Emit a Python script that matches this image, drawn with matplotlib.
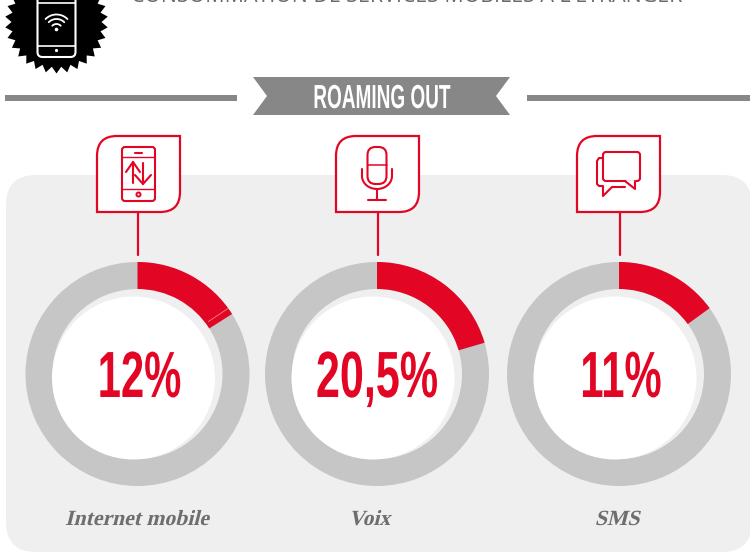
import numpy as np
import matplotlib
matplotlib.use("Agg")
import matplotlib.pyplot as plt
from matplotlib.patches import Wedge, Circle, FancyBboxPatch, PathPatch, Polygon, Rectangle
from matplotlib.path import Path
from matplotlib.patheffects import AbstractPathEffect
from matplotlib.transforms import Affine2D

# valeurs
categories = ["Internet mobile", "Voix", "SMS"]
labels = ["12%", "20,5%", "11%"]
arc_share = [16, 20.5, 15]   # part de l'anneau reellement dessinee
title = "CONSOMMATION DE SERVICES MOBILES À L'ÉTRANGER"
banner = "ROAMING OUT"

RED = "#e30524"
RING = "#c6c6c6"
PANEL = "#efefef"
BAND = "#878787"

centers_x = [137.5, 377, 619]
label_x = [139.5, 377, 621]
label_sx = [0.64, 0.66, 0.64]
cat_x = [136.5, 369.5, 617]
box_x = [97, 336, 577]
CY = 374
R = 112
WIDTH = 27


# resserre le texte horizontalement (pas de police condensee installee)
class Squeeze(AbstractPathEffect):
    def __init__(self, sx, cx):
        super().__init__()
        self.sx = sx
        self.cx = cx

    def draw_path(self, renderer, gc, tpath, affine, rgbFace=None):
        aff = affine + Affine2D().translate(-self.cx, 0).scale(self.sx, 1).translate(self.cx, 0)
        renderer.draw_path(gc, tpath, aff, rgbFace)


# penche le texte (l'italique gras de Liberation Serif ne sort pas)
class Penche(AbstractPathEffect):
    def __init__(self, deg, y0):
        super().__init__()
        self.deg = deg
        self.y0 = y0

    def draw_path(self, renderer, gc, tpath, affine, rgbFace=None):
        aff = affine + Affine2D().translate(0, -self.y0).skew_deg(self.deg, 0).translate(0, self.y0)
        renderer.draw_path(gc, tpath, aff, rgbFace)


def boite(ax, x, y, w=83, h=76, r=20):
    verts = [(x + r, y), (x + w, y), (x + w, y + h - r), (x + w, y + h), (x + w - r, y + h),
             (x, y + h), (x, y + r), (x, y), (x + r, y), (x + r, y)]
    codes = [Path.MOVETO, Path.LINETO, Path.LINETO, Path.CURVE3, Path.CURVE3,
             Path.LINETO, Path.LINETO, Path.CURVE3, Path.CURVE3, Path.CLOSEPOLY]
    ax.add_patch(PathPatch(Path(verts, codes), fc="white", ec=RED, lw=1.6, zorder=3))


def arrondi(ax, x, y, w, h, r=2, color=RED, lw=1.5, fc="none", z=4):
    ax.add_patch(FancyBboxPatch((x + r, y + r), w - 2 * r, h - 2 * r, boxstyle="round,pad=%g,rounding_size=%g" % (r, r),
                                fc=fc, ec=color, lw=lw, zorder=z))


def trait(ax, xs, ys, color=RED, lw=1.5, z=4):
    ax.plot(xs, ys, color=color, lw=lw, zorder=z, solid_capstyle="round", solid_joinstyle="round")


fig = plt.figure(figsize=(7.5, 5.52), dpi=100)
ax = fig.add_axes([0, 0, 1, 1])
ax.set_xlim(0, 750)
ax.set_ylim(552, 0)
ax.axis("off")

# panneau gris
ax.add_patch(FancyBboxPatch((36, 205), 686, 317, boxstyle="round,pad=30,rounding_size=30", fc=PANEL, ec="none", zorder=0))

# titre coupe en haut
ax.text(407, -3, title, ha="center", va="center", fontsize=15.4, family=["Open Sans", "DejaVu Sans"],
        color="#6a6a6a", zorder=2)

# badge noir
n = 30
ang = np.linspace(0, 2 * np.pi, 2 * n, endpoint=False)
rad = np.where(np.arange(2 * n) % 2 == 0, 51.5, 45)
ax.add_patch(Polygon(np.c_[56.5 + rad * np.sin(ang), 22 + rad * np.cos(ang)], fc="black", ec="none", zorder=1))
arrondi(ax, 37.5, -20, 38, 77, r=5, color="white", lw=1.5, z=2)
trait(ax, [38, 75], [3, 3], color="white", lw=1.2, z=2)
trait(ax, [38, 75], [46, 46], color="white", lw=1.2, z=2)
ax.add_patch(Circle((56.5, 50.5), 1.6, fc="white", ec="none", zorder=2))
ax.add_patch(Circle((56.5, 29.5), 1.8, fc="white", ec="none", zorder=2))
for rr in [6, 11, 15.5]:
    t = np.radians(np.linspace(-135, -45, 20))
    trait(ax, 56.5 + rr * np.cos(t), 30 + rr * np.sin(t), color="white", lw=1.3, z=2)

# bandeau
ax.add_patch(Rectangle((5, 95), 232, 5.5, fc=BAND, ec="none"))
ax.add_patch(Rectangle((527, 95), 223, 5.5, fc=BAND, ec="none"))
ax.add_patch(Polygon([(253, 77), (510, 77), (496, 96), (510, 115), (253, 115), (267, 96)], fc=BAND, ec="none"))
ax.text(382, 108, banner, ha="center", va="baseline", color="white", fontsize=24, weight="bold",
        family=["Liberation Sans", "DejaVu Sans"], path_effects=[Squeeze(0.57, 382)], zorder=3)

# anneaux
for i in range(3):
    cx = centers_x[i]
    theta2 = -90 + 360 * arc_share[i] / 100
    ax.add_patch(Wedge((cx, CY), R, 0, 360, width=WIDTH, fc=RING, ec="none", zorder=1))
    ax.add_patch(Circle((cx - 4, CY + 4), 81.5, fc="white", ec="none", zorder=1.5))
    ax.add_patch(Wedge((cx, CY), R, -90, theta2, width=WIDTH, fc=RED, ec="none", zorder=2))
    ax.text(label_x[i], 397, labels[i], ha="center", va="baseline", color=RED, fontsize=47, weight="bold",
            family=["Liberation Sans", "DejaVu Sans"], path_effects=[Squeeze(label_sx[i], label_x[i])], zorder=3)
    ax.text(cat_x[i], 525, categories[i], ha="center", va="baseline", color="#6e6e6e", fontsize=15.6,
            weight="bold", family="Liberation Serif", path_effects=[Penche(14, 552 - 525)])
    # boite et tige
    boite(ax, box_x[i], 136)
    trait(ax, [cx + 0.5, cx + 0.5], [212, 255], lw=1.6, z=2)

# icone telephone
x0 = box_x[0]
arrondi(ax, x0 + 25, 147, 33, 54, r=3)
trait(ax, [x0 + 25, x0 + 58], [157, 157], lw=1)
trait(ax, [x0 + 25, x0 + 58], [189, 189], lw=1)
trait(ax, [x0 + 38, x0 + 45], [153, 153])
ax.add_patch(Circle((x0 + 41.5, 194.5), 2, fc="none", ec=RED, lw=1.4, zorder=4))
trait(ax, [x0 + 36, x0 + 36], [162, 183])
trait(ax, [x0 + 29, x0 + 36, x0 + 43], [172, 162, 172])
trait(ax, [x0 + 46, x0 + 46], [163, 184])
trait(ax, [x0 + 38, x0 + 46, x0 + 54], [175, 184, 175])

# icone micro
x1 = box_x[1] + 41
arrondi(ax, x1 - 9.5, 147, 19, 37, r=8)
trait(ax, [x1 - 9, x1 + 9.5], [165, 165], lw=1.1)
t = np.radians(np.linspace(0, 180, 30))
trait(ax, np.r_[x1 + 15, x1 + 15 * np.cos(t), x1 - 15], np.r_[169, 176 + 13 * np.sin(t), 169])
trait(ax, [x1, x1], [189, 200])
trait(ax, [x1 - 9, x1 + 9], [200, 200])

# icone bulles
x2 = box_x[2]
arrondi(ax, x2 + 26, 152, 37, 29, r=3)
trait(ax, [x2 + 26, x2 + 22, x2 + 20, x2 + 20, x2 + 22, x2 + 26, x2 + 26, x2 + 35, x2 + 48],
      [158, 158, 161, 184, 186, 186, 196, 187, 187])
ax.plot([x2 + 49.5, x2 + 56.5], [181, 181], color="white", lw=2, zorder=4.5)
trait(ax, [x2 + 48, x2 + 58, x2 + 58], [181, 189, 181], z=5)

# fine couture blanche sur le premier arc
ax.plot([208.5, 228], [321.5, 308.5], color="#f0a0a8", lw=0.5, zorder=2.5)

fig.savefig("out.png", dpi=100)
